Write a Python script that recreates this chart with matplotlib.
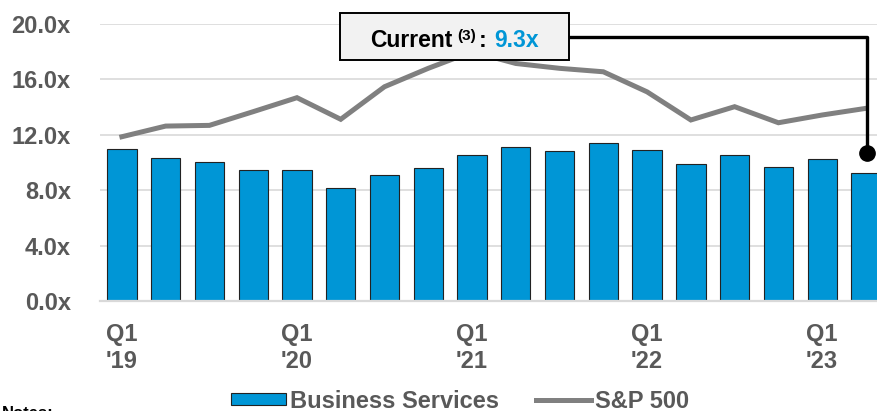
import matplotlib
matplotlib.use("Agg")
import matplotlib.pyplot as plt
import numpy as np
from matplotlib.lines import Line2D
from matplotlib.patches import Patch, Rectangle
from matplotlib.transforms import IdentityTransform

plt.rcParams["font.family"] = ["Liberation Sans", "DejaVu Sans"]
plt.rcParams["font.weight"] = "bold"

# ── data ──
quarters = ["Q1 '19", "Q2 '19", "Q3 '19", "Q4 '19",
            "Q1 '20", "Q2 '20", "Q3 '20", "Q4 '20",
            "Q1 '21", "Q2 '21", "Q3 '21", "Q4 '21",
            "Q1 '22", "Q2 '22", "Q3 '22", "Q4 '22",
            "Q1 '23", "Q2 '23"]
business_services = [10.95, 10.3, 10.0, 9.46, 9.46, 8.16, 9.12, 9.58,
                     10.56, 11.14, 10.8, 11.38, 10.93, 9.91, 10.54, 9.7,
                     10.23, 9.24]
sp500 = [11.86, 12.63, 12.68, 13.67, 14.68, 13.12, 15.47, 16.8,
         18.0, 17.15, 16.8, 16.55, 15.1, 13.07, 14.03, 12.87,
         13.43, 13.91]
tick_labels = ["Q1\n'19", "Q1\n'20", "Q1\n'21", "Q1\n'22", "Q1\n'23"]
tick_idx = [0, 4, 8, 12, 16]
yticks = [0, 4, 8, 12, 16, 20]
current_label = "9.3x"

BLUE = "#0096d6"
GREY = "#808080"
TXT = "#595959"
GRID = "#d9d9d9"
FS = 17

W, H = 878, 411
fig = plt.figure(figsize=(W / 100, H / 100), dpi=100)
ax = fig.add_axes([100 / W, (H - 301) / H, 783 / W, 277 / H])

x = np.arange(len(quarters))
ax.bar(x, business_services, width=0.67, color=BLUE, edgecolor="#222222",
       linewidth=0.8, zorder=2)
ax.plot(x, sp500, color=GREY, linewidth=3.6, zorder=3, solid_joinstyle="miter")

ax.set_ylim(0, 20)
ax.set_xlim(-0.5, 17.39)
ax.set_yticks(yticks)
ax.set_yticklabels([f"{v:.1f}x" for v in yticks])
ax.set_xticks(tick_idx)
ax.set_xticklabels(tick_labels)
ax.tick_params(axis="both", length=0, labelsize=FS, labelcolor=TXT)
ax.tick_params(axis="y", pad=21)
ax.tick_params(axis="x", pad=16)
ax.grid(axis="y", color=GRID, linewidth=1.2, zorder=0)
ax.set_axisbelow(True)
for s in ["top", "right", "left"]:
    ax.spines[s].set_visible(False)
ax.spines["bottom"].set_color(GRID)
ax.spines["bottom"].set_linewidth(1.6)

# ── callout box (figure pixel coords, measured from top-left) ──
def py(y_top):
    return H - y_top

box_l, box_r, box_t, box_b = 340, 569, 13, 60
fig.patches.append(Rectangle((box_l, py(box_b)), box_r - box_l, box_b - box_t,
                             transform=IdentityTransform(), facecolor="#f2f2f2",
                             edgecolor="black", linewidth=1.4, zorder=5))

renderer = fig.canvas.get_renderer()
pieces = [("Current", 16.5, "black", 0, 5),
          ("(3)", 11, "black", 7, 2),
          (":", 16.5, "black", 0, 8),
          (current_label, 16.5, BLUE, 0, 0)]
texts = []
total = 0
for s, fs, c, rise, gap in pieces:
    t = fig.text(0, 0, s, fontsize=fs, color=c, fontweight="bold",
                 transform=IdentityTransform(), va="baseline", ha="left", zorder=6)
    w = t.get_window_extent(renderer).width
    texts.append((t, w, rise, gap))
    total += w + gap
xpos = (box_l + box_r) / 2 - total / 2
baseline = py(46.5)
for t, w, rise, gap in texts:
    t.set_position((xpos, baseline + rise))
    xpos += w + gap

# connector from box to the last bar
last = len(quarters) - 1
y_conn = (301 - 36.7) / 277 * 20
y_dot = 10.7
x_box_r = (box_r - 100) / 783 * (17.39 + 0.5) - 0.5
ax.plot([x_box_r, last + 0.03, last + 0.03], [y_conn, y_conn, y_dot],
        color="black", linewidth=2.4, clip_on=False, zorder=4)
ax.plot([last + 0.03], [y_dot], "o", color="black", markersize=11,
        clip_on=False, zorder=4)

# legend
handles = [Patch(facecolor=BLUE, edgecolor="#222222", linewidth=0.8),
           Line2D([0], [0], color=GREY, linewidth=3.6)]
fig.legend(handles, ["Business Services", "S&P 500"], loc="center",
           bbox_to_anchor=(460 / W, (H - 401) / H), ncol=2, frameon=False,
           fontsize=FS, labelcolor=TXT, handlelength=2.3, handleheight=0.42,
           handletextpad=0.17, columnspacing=1.6, borderaxespad=0)

fig.text(2 / W, py(406) / H, "Notes:", fontsize=12, fontweight="bold",
         color="black", va="top", ha="left")

fig.savefig("out.png", dpi=100)
